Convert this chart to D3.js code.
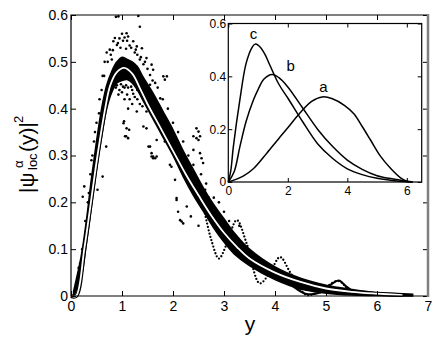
<!DOCTYPE html>
<html>
<head>
<meta charset="utf-8">
<style>
  body { margin: 0; background: #fff; }
  text { font-family: "Liberation Sans", Arial, sans-serif; }
</style>
</head>
<body>
<svg id="chart" width="436" height="338"></svg>
<script src="https://d3js.org/d3.v7.min.js"></script>
<script>

// main panel: white mean curve
var curveX = [0, 0.1, 0.26, 0.39, 0.52, 0.67, 0.77, 0.9, 1.04, 1.2, 1.35, 1.5, 1.75, 2.0, 2.25, 2.5, 2.75, 3.0, 3.25, 3.5, 4.0, 4.5, 5.0, 5.5, 6.0, 6.5];
var curveY = [0, 0, 0.1, 0.2, 0.3, 0.4, 0.45, 0.478, 0.487, 0.475, 0.444, 0.41, 0.36, 0.31, 0.26, 0.215, 0.172, 0.135, 0.105, 0.08, 0.05, 0.03, 0.016, 0.009, 0.005, 0.002];

// dense band of points around the curve
var bandX  = [0.05, 0.2, 0.3, 0.4, 0.5, 0.6, 0.7, 0.8, 0.9, 1.0, 1.1, 1.2, 1.3, 1.4, 1.6, 1.8, 2.0, 2.2, 2.4, 2.6, 2.8, 3.0, 3.2, 3.5, 4.0, 4.5, 5.0, 5.5, 6.0, 6.4, 6.7];
var bandLo = [0, 0.04, 0.11, 0.19, 0.27, 0.34, 0.40, 0.435, 0.455, 0.46, 0.462, 0.455, 0.44, 0.42, 0.38, 0.34, 0.30, 0.255, 0.215, 0.18, 0.145, 0.115, 0.09, 0.065, 0.035, 0.015, 0.006, 0.002, 0.001, 0, 0];
var bandHi = [0.01, 0.085, 0.16, 0.25, 0.33, 0.40, 0.45, 0.48, 0.50, 0.51, 0.505, 0.50, 0.49, 0.47, 0.435, 0.395, 0.355, 0.31, 0.27, 0.23, 0.195, 0.165, 0.135, 0.1, 0.062, 0.038, 0.023, 0.014, 0.007, 0.005, 0.004];

// scattered points off the band
var dotX = [0.88, 0.93, 1.32, 1.35, 1.09, 1.12, 0.86, 0.83, 0.90, 0.76, 1.22, 1.29, 1.39, 1.48, 1.58, 1.61, 1.81, 1.88, 1.84, 1.55, 1.75, 0.70, 0.66, 0.62, 1.02, 1.15, 0.97,
            1.55, 1.52, 1.03, 1.09, 1.06, 1.12, 1.29, 1.42, 1.48, 1.58, 1.61, 1.52, 1.68, 1.84, 1.68, 1.75, 1.04, 1.14, 1.08, 0.95, 1.0, 1.05, 1.1, 1.2, 1.25, 0.9, 1.15,
            2.46, 2.50, 2.53, 2.40, 2.53, 2.46, 2.5, 2.56, 2.4, 2.59, 2.63, 2.2, 2.3, 2.7, 2.75,
            1.48, 1.55, 1.58, 1.65, 1.81, 1.94, 1.97, 2.04, 2.07, 2.27, 2.07, 2.10, 2.17, 2.20, 2.14, 1.68, 1.61, 2.35, 2.5,
            0.69, 0.62, 0.52, 0.23, 0.26, 0.45, 0.55, 0.15, 0.35, 0.4,
            0.72, 0.78, 0.82, 0.95, 1.0, 1.05, 1.1, 1.18, 1.25, 1.3, 1.35, 1.42, 1.45, 1.5, 0.8, 0.92, 1.08, 1.27, 1.37, 1.6, 1.7, 1.65,
            0.88, 0.98, 1.02, 1.08, 1.12, 1.18, 1.22, 1.3, 1.35, 1.4, 1.3, 0.93, 1.05, 1.12, 1.2,
            0.1, 0.12, 0.18, 0.22, 0.28, 0.33, 0.38, 0.42, 0.47, 0.5, 0.56, 0.6, 0.65,
            1.8, 1.9, 2.0, 2.1, 2.2, 2.3, 2.4, 2.55, 2.65, 2.8, 2.9, 3.0, 3.1, 3.3];
var dotY = [0.596, 0.597, 0.598, 0.575, 0.561, 0.554, 0.551, 0.544, 0.536, 0.526, 0.544, 0.533, 0.529, 0.508, 0.494, 0.483, 0.469, 0.469, 0.462, 0.472, 0.422, 0.52, 0.50, 0.47, 0.545, 0.535, 0.53,
            0.451, 0.433, 0.369, 0.358, 0.341, 0.337, 0.394, 0.362, 0.394, 0.305, 0.298, 0.319, 0.333, 0.33, 0.397, 0.383, 0.373, 0.355, 0.341, 0.44, 0.435, 0.445, 0.43, 0.44, 0.425, 0.45, 0.42,
            0.358, 0.351, 0.341, 0.341, 0.305, 0.337, 0.333, 0.294, 0.312, 0.284, 0.227, 0.30, 0.28, 0.21, 0.19,
            0.358, 0.319, 0.298, 0.294, 0.344, 0.28, 0.276, 0.248, 0.209, 0.191, 0.205, 0.18, 0.159, 0.155, 0.162, 0.298, 0.294, 0.17, 0.15,
            0.319, 0.255, 0.227, 0.212, 0.234, 0.33, 0.39, 0.06, 0.22, 0.29,
            0.50, 0.515, 0.525, 0.55, 0.56, 0.552, 0.545, 0.53, 0.52, 0.515, 0.505, 0.495, 0.5, 0.485, 0.505, 0.54, 0.528, 0.526, 0.51, 0.46, 0.445, 0.455,
            0.445, 0.452, 0.447, 0.45, 0.445, 0.447, 0.432, 0.42, 0.41, 0.405, 0.44, 0.43, 0.42, 0.4, 0.41,
            0.02, 0.03, 0.07, 0.1, 0.16, 0.2, 0.26, 0.3, 0.35, 0.37, 0.42, 0.44, 0.47,
            0.42, 0.4, 0.37, 0.35, 0.33, 0.3, 0.28, 0.26, 0.24, 0.21, 0.2, 0.18, 0.16, 0.15];

// oscillating tails
var oscX1 = [2.6, 2.75, 2.9, 3.05, 3.25, 3.45, 3.7, 3.9, 4.1, 4.3, 4.62, 4.9, 5.24, 5.5, 5.8];
var oscY1 = [0.19, 0.12, 0.08, 0.11, 0.162, 0.11, 0.027, 0.05, 0.083, 0.05, 0.002, 0.012, 0.032, 0.008, 0.004];
var oscX2 = [3.4, 3.55, 3.7, 3.85, 4.0, 4.3, 4.6, 4.9, 5.1, 5.25, 5.4, 5.6];
var oscY2 = [0.075, 0.085, 0.08, 0.06, 0.05, 0.025, 0.005, 0.008, 0.025, 0.033, 0.02, 0.004];

// inset curves
var aX = [0, 0.5, 0.85, 1.3, 1.7, 2.0, 2.4, 2.8, 3.16, 3.5, 3.9, 4.22, 4.5, 4.78, 5.1, 5.46, 5.8, 6.08];
var aY = [0, 0.022, 0.051, 0.11, 0.165, 0.205, 0.26, 0.305, 0.322, 0.315, 0.29, 0.258, 0.21, 0.159, 0.1, 0.051, 0.015, 0];
var bX = [0, 0.2, 0.39, 0.6, 0.85, 1.0, 1.2, 1.47, 1.7, 2.0, 2.5, 3.0, 3.5, 4.0, 4.5, 5.0, 5.5, 6.0, 6.2];
var bY = [0, 0.04, 0.134, 0.23, 0.312, 0.35, 0.39, 0.407, 0.395, 0.36, 0.28, 0.2, 0.135, 0.083, 0.048, 0.024, 0.012, 0.003, 0];
var cX = [0, 0.08, 0.17, 0.39, 0.6, 0.8, 0.9, 1.0, 1.2, 1.41, 1.7, 2.0, 2.5, 3.0, 3.5, 4.0, 4.5, 5.0, 5.5, 6.0, 6.2];
var cY = [0, 0.04, 0.134, 0.312, 0.45, 0.51, 0.522, 0.518, 0.49, 0.439, 0.37, 0.318, 0.228, 0.145, 0.09, 0.05, 0.028, 0.014, 0.006, 0.001, 0];
var insetLabels = ["a", "b", "c"];
var labelX = [3.2, 2.1, 0.85];
var labelY = [0.34, 0.42, 0.54];

// ticks
var mainXTicks = [0, 1, 2, 3, 4, 5, 6, 7];
var mainYTicks = [0, 0.1, 0.2, 0.3, 0.4, 0.5, 0.6];
var mainYLabels = ["0", "0.1", "0.2", "0.3", "0.4", "0.5", "0.6"];
var insetXTicks = [0, 2, 4, 6];
var insetYTicks = [0, 0.2, 0.4, 0.6];
var insetYLabels = ["0", "0.2", "0.4", "0.6"];

var svg = d3.select("#chart");

var x = d3.scaleLinear().domain([0, 7]).range([71, 428]);
var y = d3.scaleLinear().domain([0, 0.6]).range([296, 15]);

// band
var area = d3.area()
  .x(function(d, i) { return x(bandX[i]); })
  .y0(function(d, i) { return y(bandLo[i]); })
  .y1(function(d, i) { return y(bandHi[i]); })
  .curve(d3.curveCatmullRom);
svg.append("path").attr("d", area(bandX))
  .attr("fill", "#000").attr("stroke", "#000").attr("stroke-width", 1.5);

// oscillations
var osc = d3.line().curve(d3.curveCatmullRom);
svg.append("path")
  .attr("d", osc(oscX1.map(function(v, i) { return [x(v), y(oscY1[i])]; })))
  .attr("fill", "none").attr("stroke", "#000").attr("stroke-width", 2.3)
  .attr("stroke-linecap", "round").attr("stroke-dasharray", "0 3.4");
svg.append("path")
  .attr("d", osc(oscX2.map(function(v, i) { return [x(v), y(oscY2[i])]; })))
  .attr("fill", "none").attr("stroke", "#000").attr("stroke-width", 2);

// scatter
svg.append("g").selectAll("circle")
  .data(dotX)
  .enter().append("circle")
  .attr("cx", function(d) { return x(d); })
  .attr("cy", function(d, i) { return y(dotY[i]); })
  .attr("r", 1.3)
  .attr("fill", "#000");

// white curve with dark edge
var mainLine = d3.line().curve(d3.curveCatmullRom);
var pts = curveX.map(function(v, i) { return [x(v), y(curveY[i])]; });
svg.append("path").attr("d", mainLine(pts))
  .attr("fill", "none").attr("stroke", "#000").attr("stroke-width", 4);
svg.append("path").attr("d", mainLine(pts))
  .attr("fill", "none").attr("stroke", "#fff").attr("stroke-width", 1.8);

// main axes
function axisStyle(g) {
  g.select(".domain").remove();
  g.selectAll("text").attr("font-size", 14).attr("font-family", "Liberation Sans, Arial, sans-serif").attr("fill", "#000");
  g.selectAll("line").attr("stroke", "#000");
}
svg.append("g").attr("transform", "translate(0,296)")
  .call(d3.axisBottom(x).tickValues(mainXTicks).tickFormat(d3.format("d")).tickSize(-5).tickPadding(5))
  .call(axisStyle);
svg.append("g").attr("transform", "translate(0,15)")
  .call(d3.axisTop(x).tickValues(mainXTicks).tickFormat("").tickSize(-5))
  .call(axisStyle);
svg.append("g").attr("transform", "translate(71,0)")
  .call(d3.axisLeft(y).tickValues(mainYTicks).tickFormat(function(d, i) { return mainYLabels[i]; }).tickSize(-5).tickPadding(3))
  .call(axisStyle);
svg.append("g").attr("transform", "translate(428,0)")
  .call(d3.axisRight(y).tickValues(mainYTicks).tickFormat("").tickSize(-5))
  .call(axisStyle);

svg.append("path").attr("d", "M428,15H71V296H428")
  .attr("fill", "none").attr("stroke", "#000").attr("stroke-width", 1.2);
svg.append("line").attr("x1", 428).attr("x2", 428).attr("y1", 14).attr("y2", 297)
  .attr("stroke", "#808080").attr("stroke-width", 2.5);

// axis titles
svg.append("text").attr("x", 250).attr("y", 331).attr("text-anchor", "middle")
  .attr("font-size", 21).text("y");

var yt = svg.append("g").attr("transform", "translate(34,195) rotate(-90)");
yt.append("text").attr("x", 2).attr("y", 0).attr("font-size", 21).text("|\u03C8");
yt.append("text").attr("x", 27).attr("y", -11).attr("font-size", 13).text("\u03B1");
yt.append("text").attr("x", 25).attr("y", 3).attr("font-size", 13).text("loc");
yt.append("text").attr("x", 43).attr("y", 0).attr("font-size", 21).text("(y)|");
yt.append("text").attr("x", 72).attr("y", -11).attr("font-size", 13).text("2");

// inset
var ix = d3.scaleLinear().domain([0, 6.5]).range([228.3, 421.7]);
var iy = d3.scaleLinear().domain([0, 0.6]).range([182, 23.5]);

svg.append("rect").attr("x", 228.3).attr("y", 23.5).attr("width", 421.7 - 228.3).attr("height", 182 - 23.5)
  .attr("fill", "#fff");

var insetLine = d3.line().curve(d3.curveCatmullRom);
[[aX, aY], [bX, bY], [cX, cY]].forEach(function(s) {
  svg.append("path")
    .attr("d", insetLine(s[0].map(function(v, i) { return [ix(v), iy(s[1][i])]; })))
    .attr("fill", "none").attr("stroke", "#000").attr("stroke-width", 1.5);
});

svg.append("g").selectAll("text")
  .data(insetLabels)
  .enter().append("text")
  .attr("x", function(d, i) { return ix(labelX[i]); })
  .attr("y", function(d, i) { return iy(labelY[i]); })
  .attr("text-anchor", "middle")
  .attr("font-size", 15)
  .text(function(d) { return d; });

function insetStyle(g) {
  g.select(".domain").remove();
  g.selectAll("text").attr("font-size", 12).attr("font-family", "Liberation Sans, Arial, sans-serif").attr("fill", "#000");
  g.selectAll("line").attr("stroke", "#000");
}
svg.append("g").attr("transform", "translate(0,182)")
  .call(d3.axisBottom(ix).tickValues(insetXTicks).tickFormat(d3.format("d")).tickSize(-4).tickPadding(4))
  .call(insetStyle);
svg.append("g").attr("transform", "translate(0,23.5)")
  .call(d3.axisTop(ix).tickValues(insetXTicks).tickFormat("").tickSize(-4))
  .call(insetStyle);
svg.append("g").attr("transform", "translate(228.3,0)")
  .call(d3.axisLeft(iy).tickValues(insetYTicks).tickFormat(function(d, i) { return insetYLabels[i]; }).tickSize(-4).tickPadding(2))
  .call(insetStyle);
svg.append("g").attr("transform", "translate(421.7,0)")
  .call(d3.axisRight(iy).tickValues(insetYTicks).tickFormat("").tickSize(-4))
  .call(insetStyle);

svg.append("rect").attr("x", 228.3).attr("y", 23.5).attr("width", 421.7 - 228.3).attr("height", 182 - 23.5)
  .attr("fill", "none").attr("stroke", "#000").attr("stroke-width", 1.2);

</script>
</body>
</html>
